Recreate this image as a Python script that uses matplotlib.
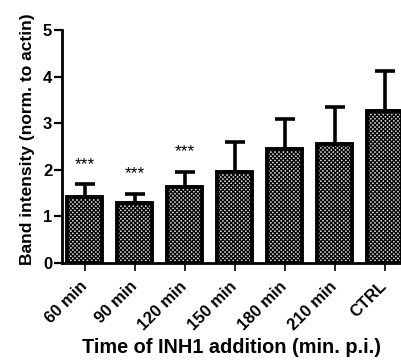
import matplotlib
matplotlib.use("Agg")
from matplotlib import pyplot as plt

categories = ["60 min", "90 min", "120 min", "150 min", "180 min", "210 min", "CTRL"]
means = [1.41, 1.28, 1.64, 1.96, 2.44, 2.55, 3.27]
sd_upper = [0.28, 0.19, 0.32, 0.64, 0.65, 0.79, 0.85]
stars = ["***", "***", "***", "", "", "", ""]
star_y = [2.12, 1.91, 2.4]

plt.rcParams["font.family"] = ["Liberation Sans", "DejaVu Sans"]
plt.rcParams["hatch.linewidth"] = 0.9

fig = plt.figure(figsize=(4.01, 3.61), dpi=100)
ax = fig.add_axes([62 / 401, 1 - 263 / 361, 1 - 62 / 401, (263 - 30) / 361])

x = list(range(len(categories)))
ax.bar(x, means, width=0.7, color="#d8d8d8", edgecolor="black", linewidth=2.8,
       hatch="xxxxxxxx", zorder=2,
       yerr=[[0] * len(means), sd_upper],
       error_kw=dict(ecolor="black", elinewidth=2.6, capsize=7.5, capthick=2.6, zorder=1))

for i, s in enumerate(stars):
    if s:
        ax.text(x[i], star_y[i], s, ha="center", va="center", fontsize=12.5)

ax.set_xlim(-0.45, 6.33)
ax.set_ylim(0, 5)
ax.set_yticks([0, 1, 2, 3, 4, 5])
ax.set_xticks(x)
ax.set_xticklabels(categories, rotation=45, ha="right", va="center",
                   rotation_mode="anchor", fontsize=12, fontweight="bold")
for lbl in ax.get_yticklabels():
    lbl.set_fontsize(12)
    lbl.set_fontweight("bold")

for side in ("top", "right"):
    ax.spines[side].set_visible(False)
for side in ("left", "bottom"):
    ax.spines[side].set_linewidth(2)
ax.tick_params(axis="y", length=6, width=1.6, pad=1)
ax.tick_params(axis="x", length=6, width=1.2, pad=9)

ax.set_ylabel("Band intensity (norm. to actin)", fontsize=12.5, fontweight="bold")
ax.yaxis.set_label_coords(-0.08, 0.532)
ax.set_xlabel("Time of INH1 addition (min. p.i.)", fontsize=14.3, fontweight="bold", va="top")
ax.xaxis.set_label_coords(0.5, -0.32)

fig.savefig("out.png", dpi=100)
